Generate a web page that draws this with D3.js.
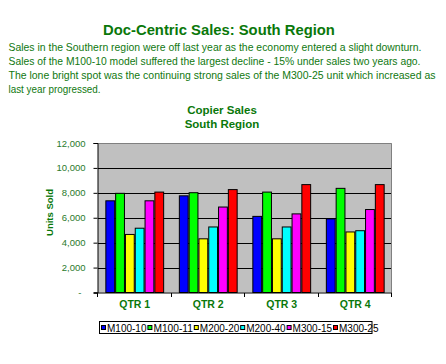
<!DOCTYPE html>
<html><head><meta charset="utf-8">
<script src="https://cdn.jsdelivr.net/npm/d3@7"></script>
<style>body{margin:0;background:#fff;}svg{display:block;}</style>
</head><body>
<svg id="c" width="446" height="364"></svg>
<script>
const quarters = ["QTR 1", "QTR 2", "QTR 3", "QTR 4"];
const models = ["M100-10", "M100-11", "M200-20", "M200-40", "M300-15", "M300-25"];
const m100_10 = [7400, 7800, 6150, 5950];
const m100_11 = [8000, 8050, 8100, 8400];
const m200_20 = [4700, 4350, 4350, 4900];
const m200_40 = [5200, 5300, 5300, 5000];
const m300_15 = [7400, 6900, 6350, 6700];
const m300_25 = [8100, 8300, 8700, 8700];
const yTicks = [0, 2000, 4000, 6000, 8000, 10000, 12000];
const colors = ["#0000ff", "#00ff00", "#ffff00", "#00ffff", "#ff00ff", "#ff0000"];
const seriesValues = [m100_10, m100_11, m200_20, m200_40, m300_15, m300_25];

const pageTitle = "Doc-Centric Sales: South Region";
const paragraph = [
  "Sales in the Southern region were off last year as the economy entered a slight downturn.",
  "Sales of the M100-10 model suffered the largest decline - 15% under sales two years ago.",
  "The lone bright spot was the continuing strong sales of the M300-25 unit which increased as",
  "last year progressed."
];
const lineWidths = [413, 412, 427, 92];

const svg = d3.select("#c");
const green = "#0a780a";
const font = "Liberation Sans, Arial, sans-serif";

svg.append("text").attr("x", 219).attr("y", 35).attr("text-anchor", "middle")
  .attr("font-family", font).attr("font-weight", "bold").attr("font-size", 14.8)
  .attr("fill", green).text(pageTitle);

paragraph.forEach((t, i) => {
  svg.append("text").attr("x", 8.5).attr("y", 51 + i * 14)
    .attr("font-family", font).attr("font-size", 11).attr("fill", "#107810")
    .attr("textLength", lineWidths[i]).attr("lengthAdjust", "spacingAndGlyphs")
    .text(t);
});

svg.append("text").attr("x", 222).attr("y", 114).attr("text-anchor", "middle")
  .attr("font-family", font).attr("font-weight", "bold").attr("font-size", 11.5)
  .attr("fill", green).text("Copier Sales");
svg.append("text").attr("x", 222).attr("y", 128).attr("text-anchor", "middle")
  .attr("font-family", font).attr("font-weight", "bold").attr("font-size", 11.5)
  .attr("fill", green).text("South Region");

const L = 98, R = 392, T = 143, B = 292.5;
const x = d3.scaleBand().domain(quarters).range([L, R]).padding(0);
const xi = d3.scaleBand().domain(models).range([x.bandwidth() * 0.1, x.bandwidth() * 0.9]).padding(0);
const y = d3.scaleLinear().domain([0, 12000]).range([B, T]);

svg.append("rect").attr("x", L).attr("y", T).attr("width", R - L).attr("height", B - T)
  .attr("fill", "#c0c0c0");
// top and right border
svg.append("path").attr("d", `M${L},${T + 0.5}H${R - 0.5}V${B}`).attr("fill", "none")
  .attr("stroke", "#808080").attr("stroke-width", 1);

// gridlines
svg.append("g").selectAll("line").data(yTicks.filter(d => d > 0 && d < 12000)).join("line")
  .attr("x1", L).attr("x2", R - 1).attr("y1", d => Math.round(y(d)) + 0.5).attr("y2", d => Math.round(y(d)) + 0.5)
  .attr("stroke", "#000").attr("stroke-width", 1);

// bars
const g = svg.append("g");
quarters.forEach((q, qi) => {
  models.forEach((m, si) => {
    const v = seriesValues[si][qi];
    g.append("rect")
      .attr("x", x(q) + xi(m) + 0.5).attr("y", y(v) + 0.5)
      .attr("width", xi.bandwidth() - 1).attr("height", B - y(v) - 0.5)
      .attr("fill", colors[si]).attr("stroke", "#000").attr("stroke-width", 1);
  });
});

// y axis
const yAxis = d3.axisLeft(y).tickValues(yTicks).tickSize(4).tickPadding(8)
  .tickFormat(d => d === 0 ? "-" : d3.format(",")(d));
const ya = svg.append("g").attr("transform", `translate(${L - 0.5},0)`).call(yAxis);
ya.select(".domain").attr("stroke", "#000");
ya.selectAll(".tick line").attr("stroke", "#000");
ya.selectAll(".tick text").attr("font-family", font).attr("font-size", 9.5).attr("fill", "#2a7a2a");
ya.selectAll(".tick text").filter(d => d === 0).attr("dx", -4);

// x axis
const xa = svg.append("g").attr("transform", `translate(0,${B + 0.5})`);
xa.append("line").attr("x1", L - 4).attr("x2", R).attr("y1", 0).attr("y2", 0).attr("stroke", "#000");
const bounds = quarters.map(q => x(q)).concat([R]);
xa.selectAll(".xt").data(bounds).join("line").attr("class", "xt")
  .attr("x1", d => Math.round(d) - 0.5).attr("x2", d => Math.round(d) - 0.5).attr("y1", 0).attr("y2", 4)
  .attr("stroke", "#000");
xa.selectAll(".xl").data(quarters).join("text").attr("class", "xl")
  .attr("x", d => x(d) + x.bandwidth() / 2).attr("y", 15).attr("text-anchor", "middle")
  .attr("font-family", font).attr("font-weight", "bold").attr("font-size", 10.5)
  .attr("fill", green).text(d => d);

// y title
svg.append("text").attr("transform", "translate(53,212.5) rotate(-90)").attr("text-anchor", "middle")
  .attr("font-family", font).attr("font-weight", "bold").attr("font-size", 9.5)
  .attr("fill", green).text("Units Sold");

// legend
const lg = svg.append("g");
lg.append("rect").attr("x", 99.5).attr("y", 321.5).attr("width", 272.5).attr("height", 12)
  .attr("fill", "#fff").attr("stroke", "#000").attr("stroke-width", 1);
const step = 46.4;
models.forEach((m, i) => {
  const ox = 101 + i * step;
  lg.append("rect").attr("x", ox + 0.5).attr("y", 325.5).attr("width", 4).attr("height", 4)
    .attr("fill", colors[i]).attr("stroke", "#000").attr("stroke-width", 1);
  lg.append("text").attr("x", ox + 6).attr("y", 331.5).attr("font-family", font)
    .attr("font-size", 10).attr("fill", "#000")
    .attr("textLength", 39.5).attr("lengthAdjust", "spacingAndGlyphs").text(m);
});
</script>
</body></html>
